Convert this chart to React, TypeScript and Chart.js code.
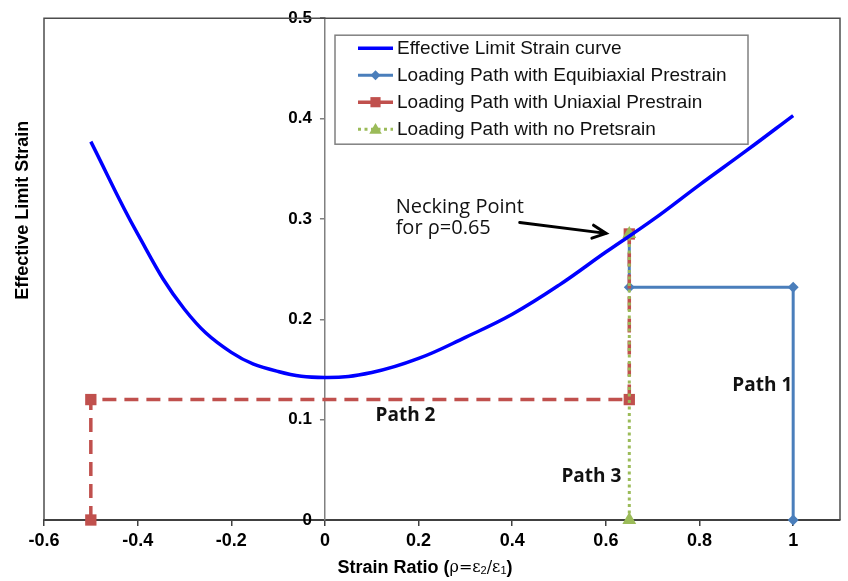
import React, { useEffect, useRef } from "react";
import { Chart, registerables } from "chart.js";

Chart.register(...registerables);

// ---- data ----
const curveRho = [-0.5, -0.4, -0.3, -0.2, -0.1, 0, 0.1, 0.2, 0.3, 0.4, 0.5, 0.6, 0.7, 0.8, 0.9, 1.0];
const curveStrain = [0.377, 0.285, 0.21, 0.167, 0.148, 0.142, 0.147, 0.161, 0.182, 0.205, 0.234, 0.267, 0.299, 0.334, 0.368, 0.403];

const equiRho = [1, 1, 0.65, 0.65];
const equiStrain = [0, 0.232, 0.232, 0.285];

const uniRho = [-0.5, -0.5, 0.65, 0.65];
const uniStrain = [0, 0.12, 0.12, 0.285];

const noRho = [0.65, 0.65];
const noStrain = [0, 0.285];

const seriesLabels = [
  "Effective Limit Strain curve",
  "Loading Path with Equibiaxial Prestrain",
  "Loading Path with Uniaxial Prestrain",
  "Loading Path with no Pretsrain",
];

const xTicks = [-0.6, -0.4, -0.2, 0, 0.2, 0.4, 0.6, 0.8, 1];
const yTicks = [0, 0.1, 0.2, 0.3, 0.4, 0.5];

const pathLabels = ["Path 1", "Path 2", "Path 3"];
const neckLabel = ["Necking Point", "for ρ=0.65"];
const yTitle = "Effective Limit Strain";
const xTitleParts = ["Strain Ratio (", "ρ=ε", "2", "/ε", "1", ")"];

const zip = (xs: number[], ys: number[]) => xs.map((x, i) => ({ x, y: ys[i] }));

const fmt = (v: number) => String(Math.round(v * 10) / 10);

function drawMarker(ctx: CanvasRenderingContext2D, style: string, x: number, y: number, r: number, color: string) {
  ctx.save();
  ctx.setLineDash([]);
  ctx.fillStyle = color;
  ctx.beginPath();
  if (style === "rectRot") {
    ctx.moveTo(x, y - r);
    ctx.lineTo(x + r, y);
    ctx.lineTo(x, y + r);
    ctx.lineTo(x - r, y);
  } else if (style === "rect") {
    const s = r * Math.SQRT1_2;
    ctx.rect(x - s, y - s, 2 * s, 2 * s);
  } else if (style === "triangle") {
    ctx.moveTo(x, y - r);
    ctx.lineTo(x + r * 0.866, y + r * 0.5);
    ctx.lineTo(x - r * 0.866, y + r * 0.5);
  }
  ctx.closePath();
  ctx.fill();
  ctx.restore();
}

// place the value axis on x = 0 of the horizontal scale
const crossAxisPlugin = {
  id: "crossAxis",
  afterLayout(chart: any) {
    const y = chart.scales.y;
    const px = chart.scales.x.getPixelForValue(0);
    y.left = 0;
    y.right = px;
    y.width = px;
  },
};

const decorPlugin = {
  id: "decor",
  afterDraw(chart: any) {
    const { ctx, chartArea: ca, scales } = chart;
    const xs = scales.x;
    const ys = scales.y;
    ctx.save();

    // frame (left, top, right)
    ctx.strokeStyle = "#4d4d4d";
    ctx.lineWidth = 1.5;
    ctx.setLineDash([]);
    ctx.beginPath();
    ctx.moveTo(ca.left, ca.bottom);
    ctx.lineTo(ca.left, ca.top);
    ctx.lineTo(ca.right, ca.top);
    ctx.lineTo(ca.right, ca.bottom);
    ctx.stroke();

    // legend
    const lx = ca.left + 291;
    const ly = ca.top + 17;
    ctx.fillStyle = "#ffffff";
    ctx.fillRect(lx, ly, 413, 109);
    ctx.strokeStyle = "#808080";
    ctx.lineWidth = 1.5;
    ctx.strokeRect(lx, ly, 413, 109);
    chart.data.datasets.forEach((ds: any, i: number) => {
      const cy = ly + 13 + i * 27;
      const x1 = lx + 23;
      const x2 = lx + 58;
      ctx.save();
      ctx.strokeStyle = ds.borderColor;
      ctx.lineWidth = ds.borderWidth;
      ctx.setLineDash(ds.borderDash || []);
      ctx.beginPath();
      ctx.moveTo(x1, cy);
      ctx.lineTo(x2, cy);
      ctx.stroke();
      ctx.restore();
      if (ds.pointRadius > 0) {
        drawMarker(ctx, ds.pointStyle, (x1 + x2) / 2, cy + (ds.pointStyle === "triangle" ? 1 : 0), ds.pointRadius * 0.9, ds.pointBackgroundColor);
      }
      ctx.fillStyle = "#111";
      ctx.font = "19px 'Liberation Sans', Arial, sans-serif";
      ctx.textAlign = "left";
      ctx.textBaseline = "middle";
      ctx.fillText(ds.label, lx + 62, cy + 1);
    });

    // necking annotation
    ctx.fillStyle = "#111";
    ctx.font = "20px 'Open Sans', sans-serif";
    ctx.textAlign = "left";
    ctx.textBaseline = "alphabetic";
    ctx.fillText(neckLabel[0], xs.getPixelForValue(0.151), ys.getPixelForValue(0.306));
    ctx.fillText(neckLabel[1], xs.getPixelForValue(0.151), ys.getPixelForValue(0.285));

    // arrow
    const ax1 = xs.getPixelForValue(0.416), ay1 = ys.getPixelForValue(0.2965);
    const ax2 = xs.getPixelForValue(0.6005), ay2 = ys.getPixelForValue(0.2856);
    ctx.strokeStyle = "#000";
    ctx.lineWidth = 3;
    ctx.lineCap = "round";
    ctx.beginPath();
    ctx.moveTo(ax1, ay1);
    ctx.lineTo(ax2, ay2);
    const ang = Math.atan2(ay2 - ay1, ax2 - ax1);
    const hl = 15;
    ctx.moveTo(ax2 - hl * Math.cos(ang - 0.45), ay2 - hl * Math.sin(ang - 0.45));
    ctx.lineTo(ax2, ay2);
    ctx.lineTo(ax2 - hl * Math.cos(ang + 0.45), ay2 - hl * Math.sin(ang + 0.45));
    ctx.stroke();

    // path labels
    ctx.font = "bold 19px 'Open Sans', sans-serif";
    ctx.textAlign = "center";
    ctx.textBaseline = "middle";
    ctx.fillText(pathLabels[0], xs.getPixelForValue(0.934), ys.getPixelForValue(0.134));
    ctx.fillText(pathLabels[1], xs.getPixelForValue(0.172), ys.getPixelForValue(0.104));
    ctx.fillText(pathLabels[2], xs.getPixelForValue(0.569), ys.getPixelForValue(0.043));

    // y axis title
    ctx.save();
    ctx.translate(ca.left - 21, ca.top + 192);
    ctx.rotate(-Math.PI / 2);
    ctx.font = "bold 18px 'Liberation Sans', Arial, sans-serif";
    ctx.textAlign = "center";
    ctx.textBaseline = "middle";
    ctx.fillStyle = "#000";
    ctx.fillText(yTitle, 0, 0);
    ctx.restore();

    // x axis title
    const fonts = [
      "bold 18px 'Liberation Sans', Arial, sans-serif",
      "16px 'DejaVu Serif', serif",
      "11px 'Liberation Sans', Arial, sans-serif",
      "16px 'DejaVu Serif', serif",
      "11px 'Liberation Sans', Arial, sans-serif",
      "bold 18px 'Liberation Sans', Arial, sans-serif",
    ];
    const dy = [0, 0, 3, 0, 3, 0];
    let total = 0;
    const widths = xTitleParts.map((t, i) => {
      ctx.font = fonts[i];
      const w = ctx.measureText(t).width;
      total += w;
      return w;
    });
    let tx = ca.left + 381 - total / 2;
    const ty = ca.bottom + 48;
    ctx.textAlign = "left";
    ctx.textBaseline = "middle";
    ctx.fillStyle = "#000";
    xTitleParts.forEach((t, i) => {
      ctx.font = fonts[i];
      ctx.fillText(t, tx, ty + dy[i]);
      tx += widths[i];
    });

    ctx.restore();
  },
};

export default function App() {
  const ref = useRef<HTMLCanvasElement>(null);

  useEffect(() => {
    if (!ref.current) return;
    const blue = "#0000ff";
    const steel = "rgb(74,126,187)";
    const red = "rgb(192,80,77)";
    const green = "rgb(155,187,89)";
    const chart = new Chart(ref.current, {
      type: "line",
      data: {
        datasets: [
          {
            label: seriesLabels[0],
            data: zip(curveRho, curveStrain),
            borderColor: blue,
            backgroundColor: blue,
            borderWidth: 3.5,
            pointRadius: 0,
            tension: 0.4,
            order: 0,
          },
          {
            label: seriesLabels[1],
            data: zip(equiRho, equiStrain),
            borderColor: steel,
            backgroundColor: steel,
            pointBackgroundColor: steel,
            pointBorderColor: steel,
            borderWidth: 3,
            pointStyle: "rectRot",
            pointRadius: 5.5,
            pointBorderWidth: 0,
            tension: 0,
            clip: false,
            order: 3,
          },
          {
            label: seriesLabels[2],
            data: zip(uniRho, uniStrain),
            borderColor: red,
            backgroundColor: red,
            pointBackgroundColor: red,
            pointBorderColor: red,
            borderWidth: 3.5,
            borderDash: [14, 8],
            pointStyle: "rect",
            pointRadius: 8,
            pointBorderWidth: 0,
            tension: 0,
            clip: false,
            order: 2,
          },
          {
            label: seriesLabels[3],
            data: zip(noRho, noStrain),
            borderColor: green,
            backgroundColor: green,
            pointBackgroundColor: green,
            pointBorderColor: green,
            borderWidth: 3,
            borderDash: [3, 3.5],
            pointStyle: "triangle",
            pointRadius: 8,
            pointBorderWidth: 0,
            tension: 0,
            clip: false,
            order: 1,
          },
        ],
      },
      options: {
        responsive: false,
        animation: false,
        devicePixelRatio: 1,
        layout: { padding: { left: 44, top: 17, right: 3, bottom: 0 } },
        plugins: {
          legend: { display: false },
          tooltip: { enabled: false },
        },
        scales: {
          x: {
            type: "linear",
            position: "bottom",
            min: -0.6,
            max: 1.1,
            afterBuildTicks: (s: any) => {
              s.ticks = xTicks.map((v) => ({ value: v }));
            },
            afterFit: (s: any) => {
              s.height = 61;
            },
            ticks: {
              callback: (v: any) => fmt(Number(v)),
              font: { family: "'Liberation Sans', Arial, sans-serif", size: 18, weight: "bold" },
              color: "#000",
              padding: 4,
              maxRotation: 0,
              autoSkip: false,
            },
            grid: { drawOnChartArea: false, drawTicks: true, tickLength: 6, color: "#404040", lineWidth: 1.5 },
            border: { display: true, color: "#404040", width: 2 },
          },
          y: {
            type: "linear",
            position: "left",
            min: 0,
            max: 0.5,
            afterBuildTicks: (s: any) => {
              s.ticks = yTicks.map((v) => ({ value: v }));
            },
            afterFit: (s: any) => {
              s.width = 0;
            },
            ticks: {
              callback: (v: any) => fmt(Number(v)),
              font: { family: "'Liberation Sans', Arial, sans-serif", size: 17, weight: "bold" },
              color: "#000",
              padding: 8,
              autoSkip: false,
            },
            grid: { drawOnChartArea: false, drawTicks: true, tickLength: 5, color: "#808080", lineWidth: 1.5 },
            border: { display: true, color: "#808080", width: 1.5 },
          },
        },
      },
      plugins: [crossAxisPlugin, decorPlugin],
    });
    return () => chart.destroy();
  }, []);

  return (
    <div style={{ position: "fixed", left: 0, top: 0, width: 848, height: 581, background: "#fff" }}>
      <canvas ref={ref} width={848} height={581} style={{ display: "block" }} />
    </div>
  );
}
